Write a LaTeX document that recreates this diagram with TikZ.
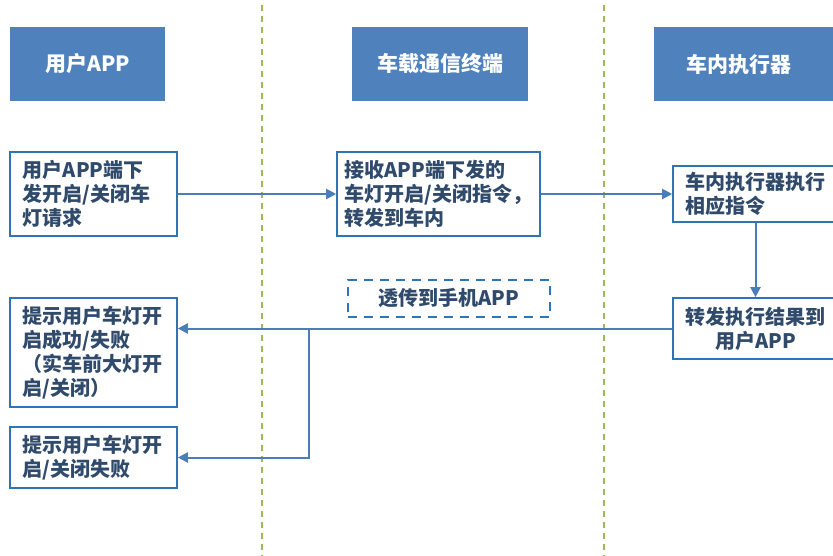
\documentclass[tikz,border=0pt]{standalone}
\usepackage{fontspec}
\setmainfont{Noto Sans CJK SC}
\usetikzlibrary{arrows.meta}
\definecolor{hdrfill}{HTML}{4F81BD}
\definecolor{boxline}{HTML}{2E75B6}
\definecolor{arrline}{HTML}{4A7EBB}
\definecolor{txt}{HTML}{2F4A6B}
\definecolor{lane}{HTML}{9BBB59}
\tikzset{
  hdr/.style={rectangle, fill=hdrfill, text=white, font=\bfseries\fontsize{21}{24}\selectfont, minimum height=74, inner sep=0},
  stepbox/.style={rectangle, draw=boxline, line width=1.6pt, text=txt, align=left, inner sep=0, font=\bfseries\fontsize{20}{24}\selectfont},
  notebox/.style={rectangle, draw=boxline, line width=2.6pt, dash pattern=on 9pt off 7pt, text=txt, inner sep=0, font=\bfseries\fontsize{20}{24}\selectfont},
  arr/.style={draw=arrline, line width=2pt, -{Triangle[length=10pt,width=10pt]}},
  lanestyle/.style={draw=lane, line width=1.3pt, dash pattern=on 6pt off 5pt}
}
\begin{document}
\begin{tikzpicture}[x=1pt,y=-1pt]
\useasboundingbox (0,0) rectangle (833,556);
\clip (0,0) rectangle (833,556);
% lanes
\draw[lanestyle] (262,5) -- (262,556);
\draw[lanestyle] (604,5) -- (604,556);
% headers
\node[hdr, minimum width=155] (h1) at (87.5,64) {用户APP};
\node[hdr, minimum width=176] (h2) at (440,64) {车载通信终端};
\fill[hdrfill] (654,27) rectangle (845,101);
\node[hdr, minimum width=170] (h3) at (739,64) {车内执行器};
% steps
\node[stepbox, minimum width=167, minimum height=84] (a) at (93.5,194)
  {\makebox[141pt][l]{用户APP端下}\\发开启/关闭车\\灯请求};
\node[stepbox, minimum width=203, minimum height=84] (b) at (438.5,194)
  {\makebox[173pt][l]{接收APP端下发的}\\车灯开启/关闭指令，\\转发到车内};
\node[stepbox, minimum width=165, minimum height=56] (c) at (755.5,194)
  {车内执行器执行\\相应指令};
\node[stepbox, align=center, minimum width=165, minimum height=61] (d) at (755.5,328.5)
  {转发执行结果到\\用户APP};
\node[stepbox, minimum width=167, minimum height=109] (e) at (93.5,352.5)
  {\makebox[141pt][l]{提示用户车灯开}\\启成功/失败\\（实车前大灯开\\启/关闭）};
\node[stepbox, minimum width=167, minimum height=61] (f) at (93.5,457.5)
  {\makebox[141pt][l]{提示用户车灯开}\\启/关闭失败};
\node[notebox, minimum width=202, minimum height=37] (n) at (449,298.5) {透传到手机APP};
% connectors
\draw[arr] (a.east) -- (b.west);
\draw[arr] (b.east) -- (c.west);
\draw[arr] (c.south) -- (d.north);
\draw[arr] (d.west) -- (d.west -| e.east);
\coordinate (j) at (309,328.5);
\draw[arr] (j) |- (f.east);
\end{tikzpicture}
\end{document}
